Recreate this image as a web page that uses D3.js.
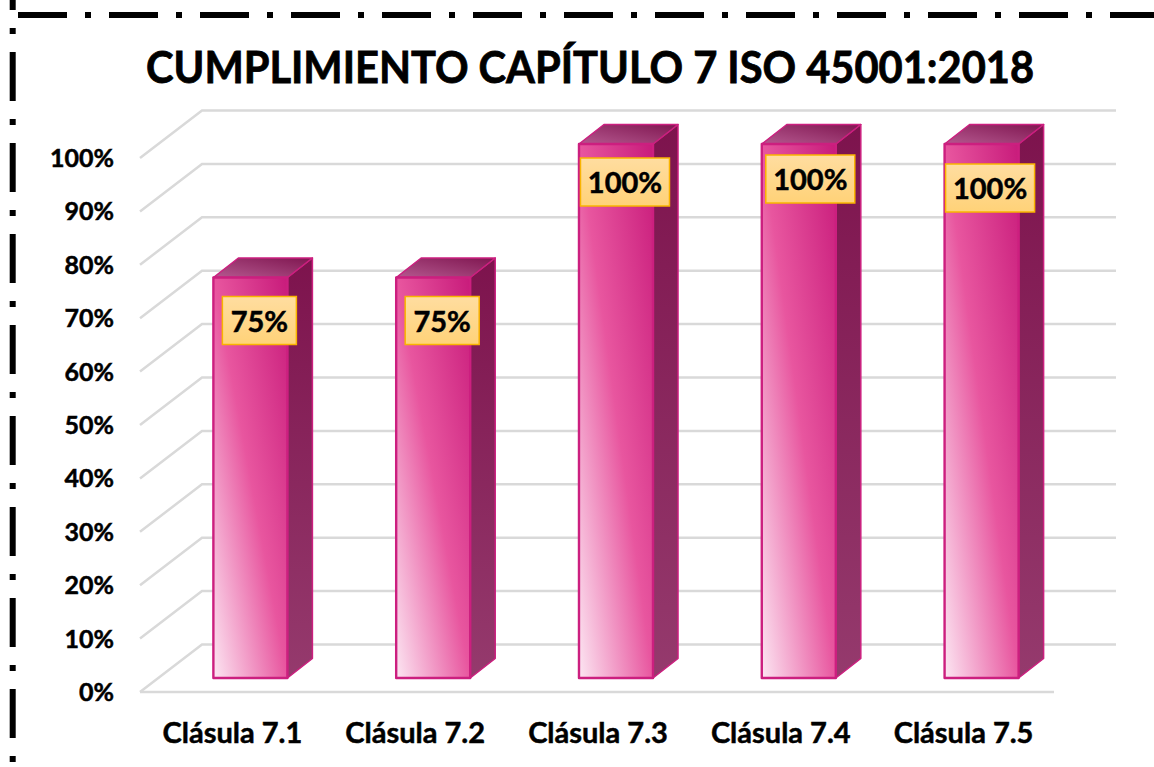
<!DOCTYPE html>
<html><head><meta charset="utf-8">
<script src="https://cdnjs.cloudflare.com/ajax/libs/d3/7.8.5/d3.min.js"></script>
<style>html,body{margin:0;background:#fff}svg{display:block}text{font-family:Lato,sans-serif;font-weight:700;fill:#000;stroke:#000;stroke-width:.5px}</style>
</head><body><svg id="c" width="1154" height="767"></svg>
<script>
const titleText = "CUMPLIMIENTO CAPÍTULO 7 ISO 45001:2018";
const categories = ["Clásula 7.1","Clásula 7.2","Clásula 7.3","Clásula 7.4","Clásula 7.5"];
const values = [0.75,0.75,1,1,1];
const valueLabels = ["75%","75%","100%","100%","100%"];
const ticks = [0,0.1,0.2,0.3,0.4,0.5,0.6,0.7,0.8,0.9,1];

const svg = d3.select("#c");
const depth = {x:62,y:-47.5};
const barDepth = {x:25,y:-19.5};
const y = d3.scaleLinear().domain([0,1]).range([692,158]);
const x = d3.scaleBand().domain(categories).range([140,1054]).paddingInner(0.595).paddingOuter(0.2975);
const barLift = 14, barShift = 19;
const labelShift = [46,46,46,48.5,45.5];
const labelTop = [19,19,14,11,20];

const defs = svg.append("defs");
const gradient = (id,attrs,stops)=>{
  const g = defs.append("linearGradient").attr("id",id);
  Object.entries(attrs).forEach(([k,v])=>g.attr(k,v));
  stops.forEach(([o,c])=>g.append("stop").attr("offset",o).attr("stop-color",c));
};
gradient("front",{x1:0,y1:1,x2:1,y2:0},[[0,"#fce6f2"],[0.5,"#e8569f"],[1,"#c81b7b"]]);
gradient("side",{x1:0,y1:0,x2:0,y2:1},[[0,"#7d134d"],[1,"#953a6d"]]);
gradient("top",{x1:0,y1:1,x2:1,y2:0},[[0,"#b5588f"],[1,"#7f1650"]]);
gradient("box",{x1:0,y1:0,x2:0,y2:1},[[0,"#ffdda0"],[1,"#ffd278"]]);

// Border
const border = svg.append("g").attr("fill","none").attr("stroke","#000").attr("stroke-width",6).attr("stroke-dasharray","49 18 6 18");
border.append("line").attr("x1",18).attr("x2",1154).attr("y1",15).attr("y2",15);
border.append("line").attr("x1",12.7).attr("x2",12.7).attr("y1",-39).attr("y2",767);

// Grid
const grid = svg.append("g").attr("fill","none").attr("stroke","#d9d9d9").attr("stroke-width",2.5);
grid.selectAll("path").data(ticks).join("path")
  .attr("d",d=>`M${x.range()[0]},${y(d)}L${x.range()[0]+depth.x},${y(d)+depth.y}L${x.range()[1]+depth.x},${y(d)+depth.y}`);
grid.append("line").attr("x1",x.range()[0]).attr("x2",x.range()[1]).attr("y1",y(0)).attr("y2",y(0));

// Axis labels
svg.append("g").selectAll("text").data(ticks).join("text")
  .attr("x",114).attr("y",d=>y(d)+9).attr("text-anchor","end").attr("font-size",25)
  .text(d=>d3.format(".0%")(d));
svg.append("g").selectAll("text").data(categories).join("text")
  .attr("x",d=>x(d)+x.bandwidth()/2+1).attr("y",743).attr("text-anchor","middle").attr("font-size",29)
  .text(d=>d);

// Bars
const bars = svg.append("g").attr("stroke","#cc1f7f").attr("stroke-width",2.4).attr("stroke-linejoin","round")
  .selectAll("g").data(categories).join("g");
const geom = i=>{const c=categories[i];return {l:x(c)+barShift,r:x(c)+barShift+x.bandwidth(),t:y(values[i])-barLift,b:y(0)-barLift};};
bars.append("path").attr("fill","url(#side)").attr("d",(d,i)=>{const g=geom(i);
  return `M${g.r},${g.t}L${g.r+barDepth.x},${g.t+barDepth.y}L${g.r+barDepth.x},${g.b+barDepth.y}L${g.r},${g.b}Z`;}).attr("stroke-width",1.5);
bars.append("path").attr("fill","url(#top)").attr("d",(d,i)=>{const g=geom(i);
  return `M${g.l},${g.t}L${g.l+barDepth.x},${g.t+barDepth.y}L${g.r+barDepth.x},${g.t+barDepth.y}L${g.r},${g.t}Z`;}).attr("stroke-width",1.5);
bars.append("rect").attr("fill","url(#front)")
  .attr("x",(d,i)=>geom(i).l).attr("y",(d,i)=>geom(i).t)
  .attr("width",x.bandwidth()).attr("height",(d,i)=>geom(i).b-geom(i).t);

// Value labels
const labels = svg.append("g").selectAll("g").data(valueLabels).join("g")
  .attr("transform",(d,i)=>{const g=geom(i);return `translate(${g.l+labelShift[i]},${g.t+labelTop[i]})`;});
labels.append("rect").attr("x",d=>d.length>3?-44.5:-37).attr("width",d=>d.length>3?89:74).attr("height",48)
  .attr("fill","url(#box)").attr("stroke","#f9b400").attr("stroke-width",1.5);
labels.append("text").attr("y",35).attr("text-anchor","middle").attr("font-size",29).text(d=>d);

// Title
svg.append("text").attr("x",590).attr("y",82.5).attr("text-anchor","middle").attr("font-size",44)
  .attr("textLength",888).attr("lengthAdjust","spacingAndGlyphs").style("stroke-width","0.8px").text(titleText);
</script></body></html>
